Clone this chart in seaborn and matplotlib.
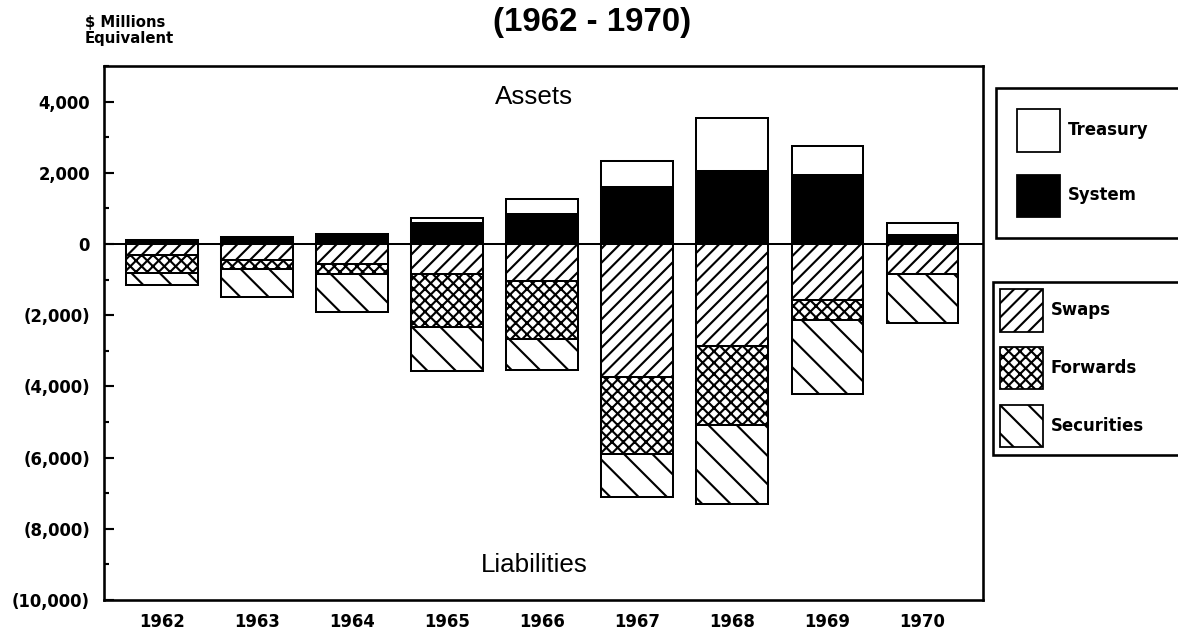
import matplotlib
matplotlib.use("Agg")
import matplotlib.pyplot as plt
from matplotlib.patches import Patch
from matplotlib.ticker import MultipleLocator, FuncFormatter
import seaborn as sns
import pandas as pd
import numpy as np

# values in $ millions equivalent
years = ["1962", "1963", "1964", "1965", "1966", "1967", "1968", "1969", "1970"]
treasury = [0, 0, 0, 150, 420, 730, 1480, 820, 350]
system = [100, 210, 290, 580, 840, 1600, 2050, 1930, 240]
swaps = [300, 460, 560, 840, 1030, 3750, 2860, 1560, 840]
forwards = [520, 240, 280, 1500, 1630, 2140, 2220, 580, 0]
securities = [320, 800, 1080, 1220, 880, 1220, 2230, 2060, 1380]

DPI = 170
W, H = 1178, 634
BAR_LW = 0.85
FRAME_LW = 1.1

plt.rcParams["hatch.linewidth"] = 0.9
plt.rcParams["hatch.color"] = "black"
plt.rcParams["font.family"] = ["DejaVu Sans"]

HATCH_SWAPS = "////"
HATCH_FWD = "xxxxx"
HATCH_SEC = "\\\\"

df = pd.DataFrame({
    "year": years,
    "assets_total": np.array(treasury) + np.array(system),
    "system": system,
    "liab_total": -(np.array(swaps) + np.array(forwards) + np.array(securities)),
    "liab_sw_fw": -(np.array(swaps) + np.array(forwards)),
    "liab_sw": -np.array(swaps),
})

fig = plt.figure(figsize=(W / DPI, H / DPI), dpi=DPI)
ax = fig.add_axes([104 / W, 1 - 600 / H, (983 - 104) / W, (600 - 66) / H])

# stacked look: draw outer totals first, inner layers on top
layers = [
    ("assets_total", "white", None),
    ("system", "black", None),
    ("liab_total", "white", HATCH_SEC),
    ("liab_sw_fw", "white", HATCH_FWD),
    ("liab_sw", "white", HATCH_SWAPS),
]
for col, color, hatch in layers:
    kw = {"hatch": hatch} if hatch else {}
    sns.barplot(data=df, x="year", y=col, order=years, color=color,
                edgecolor="black", linewidth=BAR_LW, width=0.75,
                saturation=1, errorbar=None, ax=ax, **kw)

ax.axhline(0, color="black", lw=BAR_LW, zorder=5)

ax.set_xlim(-0.61, 8.64)
ax.set_ylim(-10000, 5000)
ax.set_xlabel("")
ax.set_ylabel("")

ax.yaxis.set_major_locator(MultipleLocator(2000))
ax.yaxis.set_minor_locator(MultipleLocator(1000))
ax.yaxis.set_major_formatter(FuncFormatter(
    lambda v, p: f"({abs(v):,.0f})" if v < 0 else f"{v:,.0f}"))
ax.tick_params(axis="y", which="major", direction="in", length=4.2,
               width=0.9, pad=5.9, labelsize=7, colors="black")
ax.tick_params(axis="y", which="minor", direction="in", length=2.1, width=0.9)
ax.tick_params(axis="x", length=0, pad=5.5, labelsize=7, colors="black")
for lbl in ax.get_xticklabels() + ax.get_yticklabels():
    lbl.set_fontweight("bold")

for spine in ax.spines.values():
    spine.set_visible(True)
    spine.set_color("black")
    spine.set_linewidth(FRAME_LW)

ax.text(0.489, 0.942, "Assets", transform=ax.transAxes, ha="center",
        va="center", family="Liberation Sans", fontsize=11)
ax.text(0.489, 0.066, "Liabilities", transform=ax.transAxes, ha="center",
        va="center", family="Liberation Sans", fontsize=11)

fig.text(592 / W, 1 - 22 / H, "(1962 - 1970)", ha="center", va="center",
         family="Liberation Sans", weight="bold", fontsize=14)
fig.text(85 / W, 1 - 23 / H, "$ Millions", ha="left", va="center",
         weight="bold", fontsize=6.3)
fig.text(85 / W, 1 - 38 / H, "Equivalent", ha="left", va="center",
         weight="bold", fontsize=6.3)

leg_prop = {"family": "DejaVu Sans", "weight": "bold", "size": 7}
h1 = [Patch(facecolor="white", edgecolor="black", lw=0.75, label="Treasury"),
      Patch(facecolor="black", edgecolor="black", lw=0.75, label="System")]
h2 = [Patch(facecolor="white", edgecolor="black", lw=0.75, hatch=HATCH_SWAPS, label="Swaps"),
      Patch(facecolor="white", edgecolor="black", lw=0.75, hatch=HATCH_FWD, label="Forwards"),
      Patch(facecolor="white", edgecolor="black", lw=0.75, hatch=HATCH_SEC, label="Securities")]

leg1 = fig.legend(handles=h1, loc="upper left",
                  bbox_to_anchor=(996 / W, 1 - 238 / H, 0.3, 150 / H),
                  mode="expand", borderaxespad=0, fancybox=False, framealpha=1,
                  edgecolor="black", handlelength=2.55, handleheight=3.54,
                  handletextpad=0.5, labelspacing=1.4, borderpad=1.3, prop=leg_prop)
leg2 = fig.legend(handles=h2, loc="upper left",
                  bbox_to_anchor=(993 / W, 1 - 453 / H, 0.3, 171 / H),
                  mode="expand", borderaxespad=0, fancybox=False, framealpha=1,
                  edgecolor="black", handlelength=2.55, handleheight=3.54,
                  handletextpad=0.5, labelspacing=0.95, borderpad=0.45, prop=leg_prop)
for leg in (leg1, leg2):
    leg.get_frame().set_linewidth(FRAME_LW)

fig.savefig("out.png", dpi=DPI)
